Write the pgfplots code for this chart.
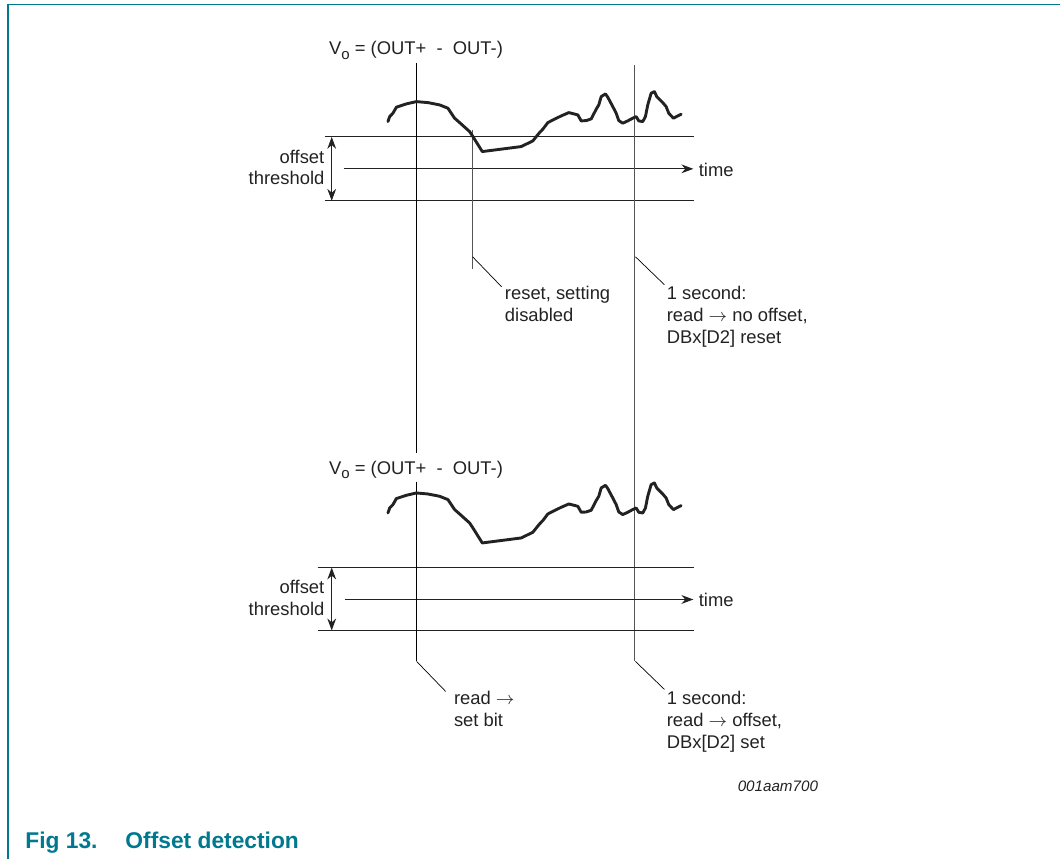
\documentclass[border=0pt]{standalone}
\usepackage{pgfplots}
\pgfplotsset{compat=1.18}
\usepackage{pgfplotstable}
\usepackage{fontspec}
\setmainfont{Liberation Sans}
\usetikzlibrary{arrows.meta}
\definecolor{nxpteal}{HTML}{00788F}
\definecolor{ink}{HTML}{222222}
\definecolor{lgray}{HTML}{555555}

\pgfplotstableread{
x y
388.3 121.7
390 116.7
393.3 113.3
396.7 107.3
406.7 104
416.7 101.7
428.3 102.7
440 105
448.3 108.3
455 118.3
460 122.7
470 131.7
473.3 136.7
482.7 151.7
521.7 146.7
533.3 141
540 132.7
543.3 129.3
548.3 122.7
555 119.3
561.7 116
569.3 112.7
578.3 115
581.7 121
586.7 120.7
591.7 119
596.7 109.3
599.3 105
601.7 96.7
606 94
608.3 97.3
613.3 106.7
616.7 113.3
619.3 120.7
623.3 123.3
628.3 121
633.3 118.3
636.7 116.7
639.3 121
643.3 121.7
646 116.7
648.3 105
651.7 93.3
655 91.7
657.3 96.7
663.3 102.7
666.7 106.7
669.3 113.3
674 118.3
681.7 114.3
}\wavetop

\pgfplotstableread{
x y
388.3 513.4
390 508.4
393.3 505
396.7 499
406.7 495.7
416.7 493.4
428.3 494.4
440 496.7
448.3 500
455 510
460 514.4
470 523.4
473.3 528.4
482.7 543.4
521.7 538.4
533.3 532.7
540 524.4
543.3 521
548.3 514.4
555 511
561.7 507.7
569.3 504.4
578.3 506.7
581.7 512.7
586.7 512.4
591.7 510.7
596.7 501
599.3 496.7
601.7 488.4
606 485.7
608.3 489
613.3 498.4
616.7 505
619.3 512.4
623.3 515
628.3 512.7
633.3 510
636.7 508.4
639.3 512.7
643.3 513.4
646 508.4
648.3 496.7
651.7 485
655 483.4
657.3 488.4
663.3 494.4
666.7 498.4
669.3 505
674 510
681.7 506
}\wavebot

\newcommand{\lbl}{\fontsize{9.2}{11}\selectfont\color{ink}}
\newcommand{\vo}{V\raisebox{-0.45ex}{\fontsize{7.5}{8}\selectfont o} = (OUT+\ \ -\ \ OUT-)}

\begin{document}
\begin{tikzpicture}[>={Stealth[length=6pt,width=4.4pt]}]
\begin{axis}[
  scale only axis, width=530.5pt, height=430pt,
  xmin=0, xmax=1061, ymin=0, ymax=860, y dir=reverse,
  hide axis, clip=false,
]
\addplot[draw=none] coordinates {(0,0) (1061,860)};
% frame
\addplot[nxpteal, line width=0.9pt] coordinates {(8.3,860) (8.3,4.5) (1061,4.5)};

% ===== top section =====
\addplot[ink, line width=0.5pt] coordinates {(325,137) (695,137)};
\addplot[ink, line width=0.5pt] coordinates {(325,201) (695,201)};
\addplot[ink, line width=0.6pt, ->] coordinates {(344,169) (694,169)};
\addplot[ink, line width=0.5pt, <->] coordinates {(332,137) (332,201)};
\addplot[black, line width=0.5pt] coordinates {(417,63) (417,453)};
\addplot[lgray, line width=0.5pt] coordinates {(635,65) (635,662)};
\addplot[lgray, line width=0.5pt] coordinates {(473,130) (473,269)};
\addplot[black, line width=0.35pt] coordinates {(473,257) (502,287)};
\addplot[black, line width=0.35pt] coordinates {(636,257) (665,285)};
\addplot[ink, line width=1.45pt, line join=round, line cap=round] table[x=x,y=y] {\wavetop};

% ===== bottom section =====
\addplot[ink, line width=0.5pt] coordinates {(318,568) (695,568)};
\addplot[ink, line width=0.5pt] coordinates {(318,631) (695,631)};
\addplot[ink, line width=0.6pt, ->] coordinates {(345,600) (694,600)};
\addplot[ink, line width=0.5pt, <->] coordinates {(332,568) (332,631)};
\addplot[black, line width=0.5pt] coordinates {(417,482) (417,662)};
\addplot[black, line width=0.35pt] coordinates {(417,662) (446,692)};
\addplot[black, line width=0.35pt] coordinates {(636,662) (665,690)};
\addplot[ink, line width=1.45pt, line join=round, line cap=round] table[x=x,y=y] {\wavebot};

% ===== texts =====
\node[anchor=base west, inner sep=0pt] at (axis cs:329,55) {\lbl\vo};
\node[anchor=base west, inner sep=0pt] at (axis cs:329,475) {\lbl\vo};

\node[anchor=base east, inner sep=0pt] at (axis cs:325,163.3) {\lbl offset};
\node[anchor=base east, inner sep=0pt] at (axis cs:325,185) {\lbl threshold};
\node[anchor=base east, inner sep=0pt] at (axis cs:325,594) {\lbl offset};
\node[anchor=base east, inner sep=0pt] at (axis cs:325,615.7) {\lbl threshold};

\node[anchor=base west, inner sep=0pt] at (axis cs:699,176.7) {\lbl time};
\node[anchor=base west, inner sep=0pt] at (axis cs:699,607) {\lbl time};

\node[anchor=base west, inner sep=0pt] at (axis cs:505,300) {\lbl reset, setting};
\node[anchor=base west, inner sep=0pt] at (axis cs:505,322) {\lbl disabled};

\node[anchor=base west, inner sep=0pt] at (axis cs:667,300) {\lbl 1 second:};
\node[anchor=base west, inner sep=0pt] at (axis cs:667,322) {\lbl read $\rightarrow$ no offset,};
\node[anchor=base west, inner sep=0pt] at (axis cs:667,344) {\lbl DBx[D2] reset};

\node[anchor=base west, inner sep=0pt] at (axis cs:454,705) {\lbl read $\rightarrow$};
\node[anchor=base west, inner sep=0pt] at (axis cs:454,727) {\lbl set bit};

\node[anchor=base west, inner sep=0pt] at (axis cs:667,705) {\lbl 1 second:};
\node[anchor=base west, inner sep=0pt] at (axis cs:667,727) {\lbl read $\rightarrow$ offset,};
\node[anchor=base west, inner sep=0pt] at (axis cs:667,749) {\lbl DBx[D2] set};

\node[anchor=base west, inner sep=0pt] at (axis cs:738,792) {\fontsize{7.6}{9}\selectfont\itshape\color{ink}001aam700};

\node[anchor=base west, inner sep=0pt] at (axis cs:25,849) {\fontsize{11.4}{14}\selectfont\bfseries\color{nxpteal}Fig 13.\hspace{14pt}Offset detection};
\end{axis}
\end{tikzpicture}
\end{document}
